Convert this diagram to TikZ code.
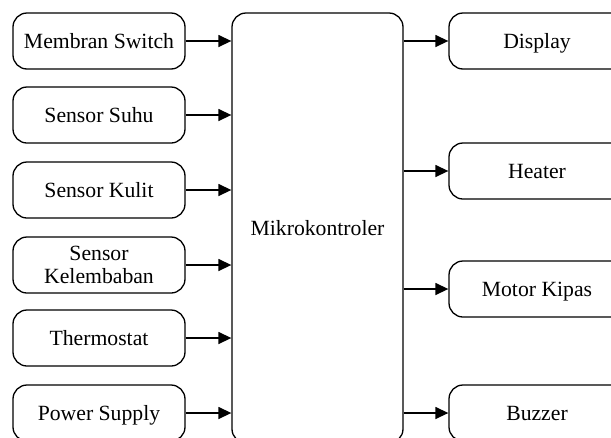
\documentclass[tikz,border=0pt]{standalone}
\usepackage{fontspec}
\setmainfont{Liberation Serif}
\usetikzlibrary{arrows.meta}
\begin{document}
\begin{tikzpicture}[x=1pt,y=-1pt,
  base/.style={draw,line width=1.3pt,rounded corners=14pt,inner sep=0pt,font=\fontsize{21.7}{23}\selectfont},
  box2/.style={base,minimum width=172pt,minimum height=56pt,align=center},
  box/.style={base,minimum width=172pt,minimum height=56pt,text height=14.4pt,text depth=0pt},
  rbox/.style={box,minimum width=176pt},
  cbox/.style={base,minimum width=171pt,minimum height=430pt,text height=14.4pt,text depth=0pt},
  arr/.style={line width=1.4pt,-{Triangle[length=13pt,width=12pt]}}]
\useasboundingbox (0,0) rectangle (611,437);
\clip (0,0) rectangle (611,437);
\node[cbox] (mc) at (317.5,228) {Mikrokontroler};
\node[box] (ms) at (99,41) {Membran Switch};
\node[box] (ss) at (99,115) {Sensor Suhu};
\node[box] (sk) at (99,190) {Sensor Kulit};
\node[box2] (sl) at (99,265) {Sensor\\Kelembaban};
\node[box] (th) at (99,338) {Thermostat};
\node[box] (ps) at (99,413) {Power Supply};
\node[rbox] (di) at (537,41) {Display};
\node[rbox] (he) at (537,171) {Heater};
\node[rbox] (mk) at (537,289) {Motor Kipas};
\node[rbox] (bz) at (537,413) {Buzzer};
\foreach \n in {ms,ss,sk,sl,th,ps}{
  \draw[arr] (\n.east) -- (\n.east -| mc.west);
}
\foreach \n in {di,he,mk,bz}{
  \draw[arr] (\n.west -| mc.east) -- (\n.west);
}
\end{tikzpicture}
\end{document}
